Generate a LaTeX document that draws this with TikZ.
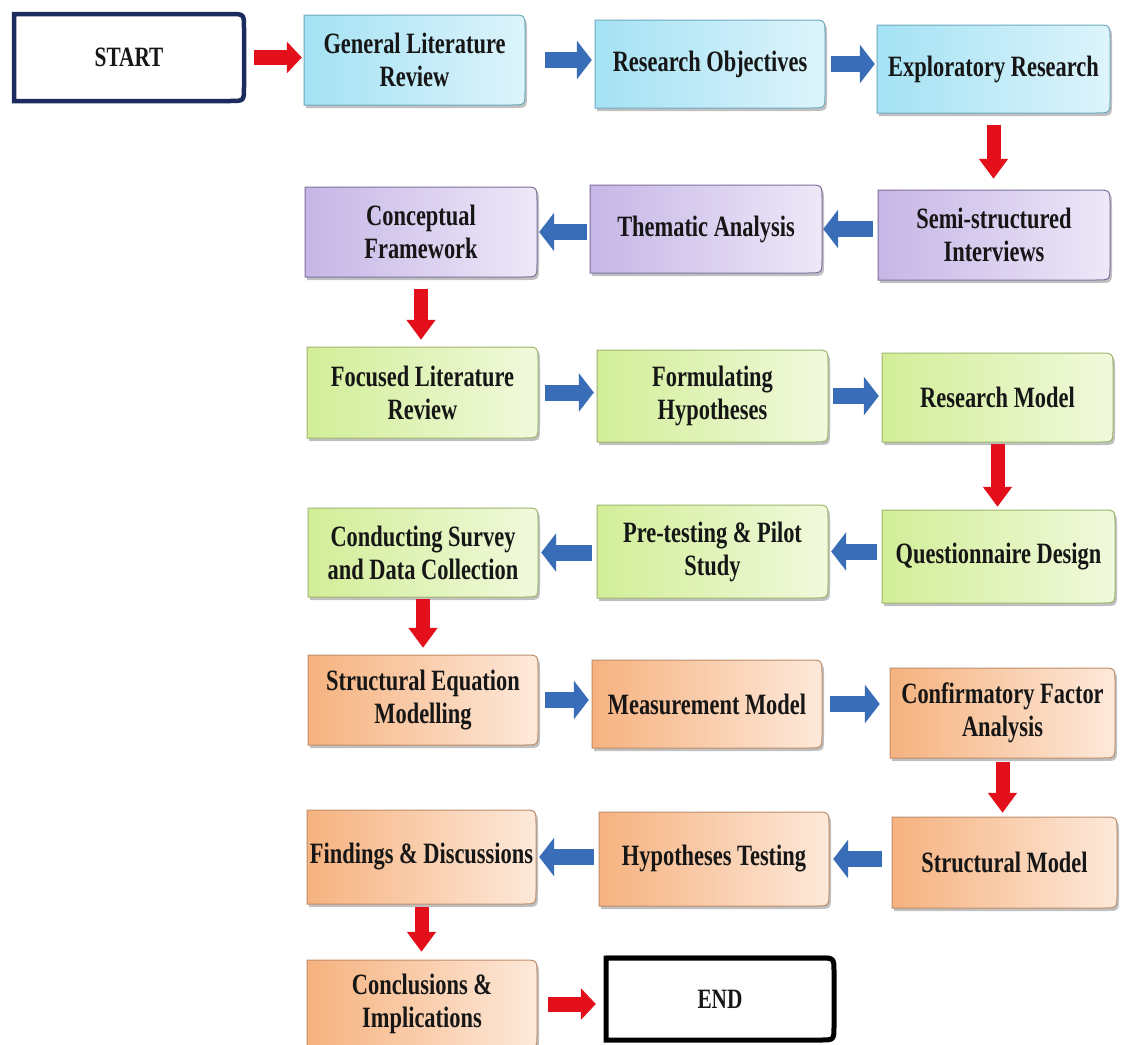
\documentclass[tikz,border=0pt]{standalone}
\usepackage{fontspec}
\setmainfont{Liberation Serif}[FakeStretch=0.76]
\usetikzlibrary{arrows.meta,shadows}

\definecolor{blueL}{HTML}{A4E2F4}
\definecolor{blueR}{HTML}{DDF4FB}
\definecolor{blueD}{HTML}{6FA9BF}
\definecolor{purpL}{HTML}{C6B6E6}
\definecolor{purpR}{HTML}{EEE8F8}
\definecolor{purpD}{HTML}{7F719E}
\definecolor{grnL}{HTML}{D2EE98}
\definecolor{grnR}{HTML}{F1F9DC}
\definecolor{grnD}{HTML}{9EB66E}
\definecolor{orgL}{HTML}{F6B27F}
\definecolor{orgR}{HTML}{FDE9DA}
\definecolor{orgD}{HTML}{BE8E6C}
\definecolor{navy}{HTML}{1C2B5E}
\definecolor{arrblue}{HTML}{3A6DB8}
\definecolor{arrred}{HTML}{E3101B}
\definecolor{ink}{HTML}{161616}

\tikzset{
  boxtext/.style={font=\bfseries\fontsize{29.5}{33}\selectfont, text=ink,
    align=center, inner sep=0pt},
  termtext/.style={font=\bfseries\fontsize{28}{32}\selectfont},
  boxshadow/.style={drop shadow={shadow xshift=2pt, shadow yshift=-3pt,
    opacity=0.35, fill=black!70}},
  bluebox/.style={boxshadow, left color=blueL, right color=blueR, draw=blueD, line width=1pt},
  purplebox/.style={boxshadow, left color=purpL, right color=purpR, draw=purpD, line width=1pt},
  greenbox/.style={boxshadow, left color=grnL, right color=grnR, draw=grnD, line width=1pt},
  orangebox/.style={boxshadow, left color=orgL, right color=orgR, draw=orgD, line width=1pt},
  startbox/.style={fill=white, draw=navy, line width=4.5pt},
  endbox/.style={drop shadow={shadow xshift=0pt, shadow yshift=3pt, opacity=0.3, fill=black},
    fill=white, draw=black, line width=5pt},
  bluearrow/.style={draw=arrblue, line width=16pt, -{Triangle[length=15pt,width=38pt]}},
  redarrow/.style={draw=arrred, line width=15pt, -{Triangle[length=15pt,width=31pt]}},
  reddown/.style={draw=arrred, line width=14pt, -{Triangle[length=20pt,width=28pt]}},
}

% box with square left corners and rounded right corners, plus its named node
% #1 extra node options, #2 name, #3 x1, #4 y1, #5 x2, #6 y2, #7 path style, #8 text
\newcommand\flowbox[8][]{%
  \path[#7] (#3,#6) -- (#3,#4) -- (#5-14,#4) .. controls (#5,#4) .. (#5,#4+14)
    -- (#5,#6-14) .. controls (#5,#6) .. (#5-14,#6) -- cycle;
  \node[boxtext, minimum width={#5-#3}, minimum height={#6-#4}, #1]
    (#2) at ({(#3+#5)/2},{(#4+#6)/2}) {#8};
}

\begin{document}
\begin{tikzpicture}[x=1pt,y=-1pt]
\fill[white] (0,0) rectangle (1121,1044);
\useasboundingbox (0,0) rectangle (1121,1044);

% row 1
\flowbox[termtext]{start}{14}{14}{244}{101}{startbox}{START}
\flowbox{glr}{304}{15}{525}{105}{bluebox}{General Literature\\Review}
\flowbox{ro}{595}{20}{825}{108}{bluebox}{Research Objectives}
\flowbox{er}{877}{25}{1110}{113}{bluebox}{Exploratory Research}

% row 2
\flowbox{ssi}{878}{190}{1110}{280}{purplebox}{Semi-structured\\Interviews}
\flowbox{ta}{590}{185}{822}{273}{purplebox}{Thematic Analysis}
\flowbox{cf}{305}{187}{537}{277}{purplebox}{Conceptual\\Framework}

% row 3
\flowbox{flr}{307}{347}{538}{438}{greenbox}{Focused Literature\\Review}
\flowbox{fh}{597}{350}{828}{442}{greenbox}{Formulating\\Hypotheses}
\flowbox{rm}{882}{353}{1113}{442}{greenbox}{Research Model}

% row 4
\flowbox{qd}{882}{510}{1115}{603}{greenbox}{Questionnaire Design}
\flowbox{pt}{597}{505}{828}{598}{greenbox}{Pre-testing \& Pilot\\Study}
\flowbox{cs}{308}{508}{538}{597}{greenbox}{Conducting Survey\\and Data Collection}

% row 5
\flowbox{sem}{308}{655}{538}{745}{orangebox}{Structural Equation\\Modelling}
\flowbox{mm}{592}{660}{822}{748}{orangebox}{Measurement Model}
\flowbox{cfa}{890}{668}{1115}{758}{orangebox}{Confirmatory Factor\\Analysis}

% row 6
\flowbox{sm}{892}{817}{1117}{908}{orangebox}{Structural Model}
\flowbox{ht}{599}{812}{829}{906}{orangebox}{Hypotheses Testing}
\flowbox{fd}{307}{810}{536}{904}{orangebox}{Findings \& Discussions}

% row 7
\flowbox{ci}{307}{960}{537}{1048}{orangebox}{Conclusions \&\\Implications}
\flowbox[termtext]{end}{606}{958}{834}{1040}{endbox}{END}

% connectors
\draw[redarrow, shorten <=10pt, shorten >=2pt] (start.east) -- (start.east -| glr.west);
\draw[bluearrow, shorten <=20pt, shorten >=3pt] (glr.east) -- (glr.east -| ro.west);
\draw[bluearrow, shorten <=6pt, shorten >=2pt] (ro.east) -- (ro.east -| er.west);
\draw[reddown, shorten <=12pt, shorten >=11pt] (er.south) -- (er.south |- ssi.north);
\draw[bluearrow, shorten <=5pt, shorten >=1pt] (ssi.west |- ta.east) -- (ta.east);
\draw[bluearrow, shorten <=3pt, shorten >=2pt] (ta.west |- cf.east) -- (cf.east);
\draw[reddown, shorten <=12pt, shorten >=7pt] (cf.south) -- (cf.south |- flr.north);
\draw[bluearrow, shorten <=7pt, shorten >=3pt] (flr.east) -- (flr.east -| fh.west);
\draw[bluearrow, shorten <=5pt, shorten >=3pt] (fh.east) -- (fh.east -| rm.west);
\draw[reddown, shorten <=2pt, shorten >=3pt] (rm.south) -- (rm.south |- qd.north);
\draw[bluearrow, shorten <=5pt, shorten >=3pt] (qd.west |- pt.east) -- (pt.east);
\draw[bluearrow, shorten <=5pt, shorten >=3pt] (pt.west |- cs.east) -- (cs.east);
\draw[reddown, shorten <=2pt, shorten >=7pt] (cs.south) -- (cs.south |- sem.north);
\draw[bluearrow, shorten <=7pt, shorten >=3pt] (sem.east) -- (sem.east -| mm.west);
\draw[bluearrow, shorten <=8pt, shorten >=10pt] (mm.east) -- (mm.east -| cfa.west);
\draw[reddown, shorten <=4pt, shorten >=4pt] (cfa.south) -- (cfa.south |- sm.north);
\draw[bluearrow, shorten <=10pt, shorten >=4pt] (sm.west |- ht.east) -- (ht.east);
\draw[bluearrow, shorten <=5pt, shorten >=3pt] (ht.west |- fd.east) -- (fd.east);
\draw[reddown, shorten <=3pt, shorten >=8pt] (fd.south) -- (fd.south |- ci.north);
\draw[redarrow, shorten <=11pt, shorten >=10pt] (ci.east) -- (ci.east -| end.west);
\end{tikzpicture}
\end{document}
